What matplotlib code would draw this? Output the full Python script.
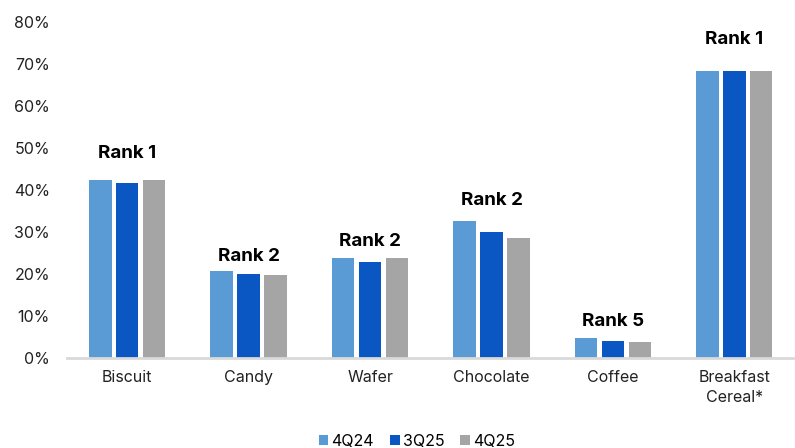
import matplotlib.pyplot as plt
import numpy as np

categories = ['Biscuit', 'Candy', 'Wafer', 'Chocolate', 'Coffee', 'Breakfast\nCereal*']
series = ['4Q24', '3Q25', '4Q25']
q4_24 = [42.4, 20.6, 23.7, 32.6, 4.7, 68.4]
q3_25 = [41.7, 19.9, 22.9, 29.9, 4.0, 68.5]
q4_25 = [42.4, 19.6, 23.7, 28.6, 3.8, 68.4]
ranks = ['Rank 1', 'Rank 2', 'Rank 2', 'Rank 2', 'Rank 5', 'Rank 1']

colors = ['#5B9BD5', '#0A56C2', '#A5A5A5']
plt.rcParams['font.family'] = ['Inter', 'DejaVu Sans']

fig = plt.figure(figsize=(7.95, 4.48), dpi=100)
ax = fig.add_axes([0.0837, 0.202, 0.9163, 0.748])

x = np.arange(len(categories))
w = 0.185
step = 0.222
for i, (vals, c, lab) in enumerate(zip([q4_24, q3_25, q4_25], colors, series)):
    ax.bar(x + (i - 1) * step, vals, width=w, color=c, label=lab, zorder=2)

# rank labels sit a little above each group
label_y = [48.6, 24.0, 27.7, 37.6, 8.7, 75.9]
for xi, r, ly in zip(x, ranks, label_y):
    ax.text(xi, ly, r, ha='center', va='center', fontsize=13.5, fontweight='bold', color='black')

ax.set_xlim(-0.5, len(categories) - 0.5)
ax.set_ylim(0, 80)
ax.set_yticks(np.arange(0, 81, 10))
ax.set_yticklabels([f'{v}%' for v in range(0, 81, 10)])
ax.set_xticks(x)
ax.set_xticklabels(categories, linespacing=1.4)
ax.tick_params(axis='both', length=0, labelsize=11.5, colors='#222222')
ax.tick_params(axis='y', pad=12)
ax.tick_params(axis='x', pad=9)
for s in ['top', 'right', 'left']:
    ax.spines[s].set_visible(False)
ax.spines['bottom'].set_color('#D9D9D9')
ax.spines['bottom'].set_linewidth(2)

fig.legend(loc='center', bbox_to_anchor=(417 / 795, 1 - 441 / 448), ncol=3, frameon=False,
           fontsize=11.5, handlelength=0.6, handleheight=0.6, handletextpad=0.2, columnspacing=1.0)

plt.savefig('out.png', dpi=100)
